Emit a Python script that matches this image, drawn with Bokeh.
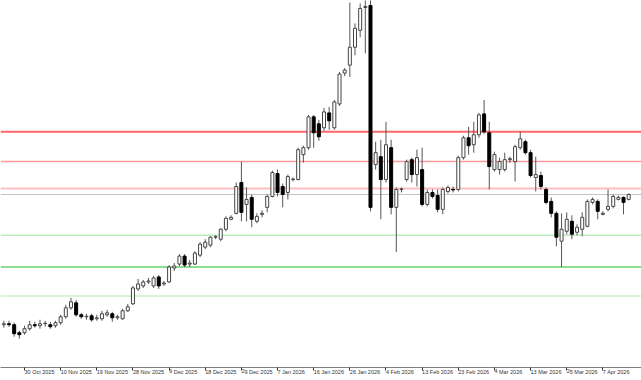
from bokeh.plotting import figure
from bokeh.models import Range1d, FixedTicker, Span, ColumnDataSource
from bokeh.embed import file_html
from bokeh.resources import INLINE

# Daily bars (bar index 0 = 30 Oct 2025)
bar_index = list(range(-4, 118))

opens = [54.8, 55.0, 54.8, 53.2,
         53.2, 54.0, 54.8, 54.6, 55.0, 54.8, 54.6, 55.2, 56.4, 58.2,
         59.2, 56.8, 56.4, 56.6, 56.0, 56.0, 56.8, 57.0, 56.2, 56.0,
         57.6, 59.0, 62.0, 62.6, 63.4, 62.6, 64.4, 63.0, 63.4, 66.2,
         67.0, 68.6, 67.0, 67.0, 68.8, 70.4, 70.8, 72.4, 72.0, 74.0,
         76.0, 77.2, 83.4, 79.0, 80.4, 75.6, 77.0, 78.4, 80.6, 85.2,
         82.6, 81.4, 84.0, 84.0, 89.0, 90.4, 96.6, 95.2, 94.4, 97.4,
         94.4, 99.2, 105.4, 107.0, 110.6, 114.0, 118.6, 119.0, 87.0, 88.6,
         84.0, 90.4, 78.4, 82.0, 84.0, 88.0, 85.0, 86.0, 79.0, 81.4,
         80.8, 78.0, 81.6, 82.0, 82.0, 88.4, 92.4, 91.0, 93.0, 97.2,
         93.4, 86.0, 86.0, 86.0, 88.0, 87.6, 90.4, 91.6, 89.4, 84.4,
         84.8, 82.0, 79.6, 77.2, 71.6, 73.6, 75.6, 73.4, 74.0, 74.6,
         79.4, 79.6, 77.0, 78.0, 78.6, 80.0, 80.4, 80.0]

highs = [55.6, 55.6, 55.2, 53.6,
         54.6, 55.6, 55.4, 55.8, 55.6, 55.4, 55.6, 56.8, 58.8, 60.2,
         59.8, 57.2, 57.0, 57.0, 56.8, 57.6, 57.8, 57.4, 56.8, 58.0,
         59.0, 62.6, 64.0, 63.8, 64.2, 64.6, 64.8, 63.6, 66.8, 67.2,
         69.0, 69.0, 67.8, 69.6, 71.4, 72.0, 72.6, 72.8, 74.2, 76.6,
         76.8, 83.4, 87.6, 82.4, 81.0, 77.2, 77.8, 81.0, 85.8, 86.0,
         83.2, 85.0, 84.4, 90.4, 90.8, 97.0, 97.0, 96.0, 98.4, 98.6,
         100.0, 105.6, 106.4, 119.6, 115.4, 119.4, 122.0, 123.0, 91.6, 92.0,
         95.6, 92.0, 82.4, 82.4, 88.0, 88.4, 90.0, 90.4, 82.0, 82.0,
         82.0, 82.4, 82.8, 82.6, 88.8, 92.8, 94.6, 95.6, 97.4, 100.0,
         95.6, 89.6, 88.4, 89.4, 88.6, 91.0, 93.6, 92.0, 90.0, 88.6,
         85.6, 82.4, 80.4, 77.6, 77.2, 77.4, 76.8, 75.0, 77.4, 80.0,
         80.4, 80.0, 77.6, 82.0, 81.0, 80.8, 80.6, 81.2]

lows = [54.2, 54.4, 52.4, 52.0,
        52.8, 53.6, 54.2, 54.0, 54.4, 54.0, 54.2, 54.8, 56.0, 57.8,
        56.4, 56.0, 55.8, 55.4, 55.6, 55.6, 56.4, 55.4, 55.8, 55.8,
        57.4, 58.8, 61.6, 62.2, 63.0, 62.2, 62.0, 62.6, 63.2, 65.6,
        66.6, 66.4, 66.4, 66.8, 68.4, 70.0, 70.4, 72.0, 71.6, 73.6,
        75.8, 77.0, 75.6, 75.6, 74.4, 75.2, 76.4, 77.4, 80.4, 80.6,
        78.4, 80.0, 83.6, 83.8, 87.4, 90.0, 90.4, 91.8, 93.8, 94.0,
        94.0, 98.8, 104.8, 104.6, 109.0, 112.6, 109.4, 77.6, 86.0, 76.0,
        83.4, 77.0, 69.4, 81.4, 83.6, 83.4, 82.6, 78.6, 78.6, 80.2,
        77.4, 77.0, 81.2, 81.4, 81.6, 88.0, 89.0, 89.4, 92.4, 93.2,
        82.0, 85.6, 85.0, 85.6, 87.4, 83.6, 90.0, 89.0, 84.4, 81.6,
        82.0, 79.0, 76.4, 70.6, 66.4, 73.0, 72.0, 72.8, 72.6, 74.4,
        79.0, 76.0, 76.8, 77.6, 78.2, 79.8, 77.0, 79.8]

closes = [55.0, 54.8, 53.0, 52.8,
          54.0, 54.8, 54.6, 55.0, 55.1, 54.4, 55.2, 56.4, 58.2, 59.4,
          56.8, 56.4, 56.5, 55.8, 56.2, 57.0, 57.2, 56.2, 56.4, 57.6,
          58.4, 62.2, 63.0, 63.4, 63.6, 64.2, 62.6, 63.2, 66.4, 66.6,
          68.6, 66.8, 67.2, 69.2, 71.0, 71.4, 72.4, 72.5, 74.0, 76.2,
          76.4, 82.6, 77.4, 80.0, 76.0, 76.6, 77.2, 80.6, 85.4, 81.4,
          81.0, 84.6, 84.1, 90.0, 90.4, 96.6, 93.4, 92.6, 97.6, 95.8,
          99.6, 105.2, 106.0, 110.6, 114.4, 118.4, 118.8, 78.4, 89.4, 84.0,
          91.0, 78.4, 82.0, 82.1, 87.6, 85.0, 88.4, 79.0, 81.4, 80.6,
          78.0, 82.0, 82.4, 81.9, 88.4, 92.4, 90.8, 93.0, 97.0, 93.6,
          86.6, 89.0, 87.6, 88.0, 88.2, 90.6, 92.2, 89.4, 84.8, 85.0,
          82.6, 79.4, 77.2, 72.4, 74.0, 76.0, 73.0, 74.4, 76.4, 79.6,
          80.0, 77.6, 77.2, 78.6, 80.6, 80.4, 79.4, 81.0]

tick_index = [0, 7, 14, 21, 28, 35, 42, 49, 56, 63, 70, 77, 84, 91, 98, 105, 112]
tick_labels = ["30 Oct 2025", "10 Nov 2025", "19 Nov 2025", "28 Nov 2025", "9 Dec 2025",
               "18 Dec 2025", "29 Dec 2025", "7 Jan 2026", "16 Jan 2026", "26 Jan 2026",
               "4 Feb 2026", "13 Feb 2026", "23 Feb 2026", "4 Mar 2026", "13 Mar 2026",
               "25 Mar 2026", "7 Apr 2026"]

level_prices = [93.6, 87.6, 82.2, 81.0, 72.8, 66.4, 60.6]
level_colors = ["#ff6666", "#ff9999", "#ffbdbd", "#bcc3cc", "#bdebbd", "#8edc8e", "#c8f1c8"]
level_widths = [2, 1.5, 2, 1, 1.5, 2, 1.5]

p = figure(width=641, height=380, output_backend="svg", toolbar_location=None,
           x_range=Range1d(-4.648, 119.48), y_range=Range1d(46.2, 120.0),
           y_axis_location=None, min_border_left=0, min_border_right=0,
           min_border_top=0, min_border_bottom=11)
p.grid.visible = False
p.outline_line_color = None
p.background_fill_color = "white"
p.border_fill_color = "white"

for lv, col, w in zip(level_prices, level_colors, level_widths):
    p.add_layout(Span(location=lv, dimension="width", line_color=col,
                      line_width=w, level="underlay"))

wick_src = ColumnDataSource(dict(x=bar_index, h=highs, l=lows))
p.segment(x0="x", y0="h", x1="x", y1="l", source=wick_src, line_color="#555555", line_width=1)

bull = [i for i in range(len(bar_index)) if closes[i] >= opens[i]]
bear = [i for i in range(len(bar_index)) if closes[i] < opens[i]]
bull_src = ColumnDataSource(dict(x=[bar_index[i] for i in bull],
                                 top=[closes[i] for i in bull],
                                 bottom=[opens[i] for i in bull]))
bear_src = ColumnDataSource(dict(x=[bar_index[i] for i in bear],
                                 top=[opens[i] for i in bear],
                                 bottom=[closes[i] for i in bear]))
p.vbar(x="x", top="top", bottom="bottom", width=0.58, source=bull_src,
       fill_color="white", line_color="#444444", line_width=1)
p.vbar(x="x", top="top", bottom="bottom", width=0.58, source=bear_src,
       fill_color="black", line_color="black", line_width=1)

xa = p.xaxis[0]
xa.ticker = FixedTicker(ticks=tick_index)
xa.major_label_overrides = {t: lab for t, lab in zip(tick_index, tick_labels)}
xa.major_label_orientation = -0.0001
xa.major_label_text_font = "Liberation Sans"
xa.major_label_text_font_size = "5.5px"
xa.major_label_text_color = "#333333"
xa.major_label_standoff = 1
xa.major_tick_in = 0
xa.major_tick_out = 3
xa.minor_tick_line_color = None
xa.axis_line_color = "#808080"
xa.major_tick_line_color = "#333333"

open("out.html", "w").write(file_html(p, INLINE))
